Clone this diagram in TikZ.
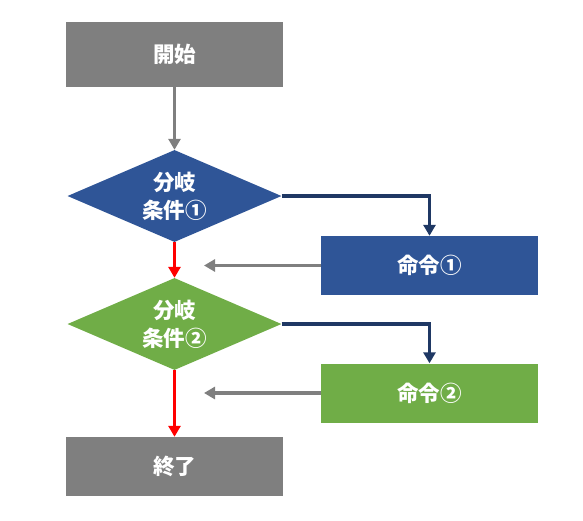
\documentclass[tikz,border=0pt]{standalone}
\usepackage{fontspec}
\newfontfamily\cjk{Noto Sans CJK JP}
\usetikzlibrary{shapes.geometric,arrows.meta}
\definecolor{boxgray}{HTML}{7F7F7F}
\definecolor{boxblue}{HTML}{2F5597}
\definecolor{boxgreen}{HTML}{70AD47}
\definecolor{linenavy}{HTML}{1F3864}
\tikzset{
  label text/.style={text=white, font=\cjk\bfseries\fontsize{21.5}{28}\selectfont, align=center},
  termbox/.style={rectangle, fill=boxgray, minimum width=217pt, minimum height=65pt, inner sep=0pt, label text},
  cmdbox/.style={rectangle, minimum width=217pt, minimum height=59pt, inner sep=0pt, label text},
  branch/.style={diamond, aspect=2.33, minimum width=214pt, minimum height=92pt, inner sep=0pt, label text},
  flow/.style={line width=3.2pt, -{Triangle[length=11pt,width=12pt]}},
}
\begin{document}
\begin{tikzpicture}[x=1pt,y=-1pt]
      \useasboundingbox (0,0) rectangle (583,520);
      \draw
        (174.5,54.5) node[termbox] (start){開始}
        (174.5,196) node[branch, fill=boxblue] (cond1){分岐\\条件①}
        (174.5,324) node[branch, fill=boxgreen] (cond2){分岐\\条件②}
        (429.5,265.5) node[cmdbox, fill=boxblue] (cmd1){命令①}
        (429.5,393) node[cmdbox, fill=boxgreen] (cmd2){命令②}
        (174.5,466.5) node[termbox, minimum height=59pt] (end){終了};
      \coordinate (ret1) at (204,265.5);
      \coordinate (ret2) at (204,393);
      \begin{scope}[flow]
        \draw[boxgray] (start) to (cond1);
        \draw[red] (cond1) to (cond2);
        \draw[red] (cond2) to (end);
        \draw[linenavy] (cond1.east) -| (cmd1.north);
        \draw[linenavy] (cond2.east) -| (cmd2.north);
        \draw[boxgray] (cmd1.west) to (ret1);
        \draw[boxgray] (cmd2.west) to (ret2);
      \end{scope}
    \end{tikzpicture}
\end{document}
